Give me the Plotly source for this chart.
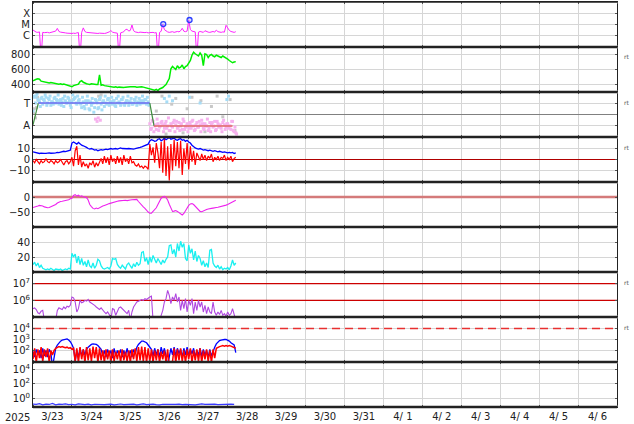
import numpy as np
import pandas as pd
import plotly.graph_objects as go
from plotly.subplots import make_subplots

T0 = pd.Timestamp("2025-03-23 00:00")
X_END = pd.Timestamp("2025-04-07 00:00")

# ---------------- data (hourly from 2025-03-23 00UT) ----------------
xray_flux = [
    3.2e-6, 2.4e-6, 2.1e-6, 2.0e-6, 2.2e-6, 1e-8, 2.0e-6, 1.9e-6, 2.1e-6, 2.0e-6,
    1.8e-6, 1.9e-6, 2.0e-6, 2.2e-6, 2.6e-6, 4.5e-6, 2.4e-6, 2.1e-6, 1.9e-6, 2.0e-6,
    1.8e-6, 1.7e-6, 1.6e-6, 1.5e-6, 1.6e-6, 1.7e-6, 1.6e-6, 1.8e-6, 1.9e-6, 1e-8,
    2.0e-6, 5.0e-6, 2.4e-6, 2.0e-6, 1.9e-6, 1.8e-6, 1.7e-6, 1.6e-6, 1.7e-6, 1.5e-6,
    1.6e-6, 1.7e-6, 1.6e-6, 1.5e-6, 1.6e-6, 1.7e-6, 1.8e-6, 2.2e-6, 2.9e-6, 2.1e-6,
    1.9e-6, 1.8e-6, 1.7e-6, 1e-8, 1.8e-6, 2.0e-6, 2.3e-6, 3.5e-6, 3.8e-6, 2.6e-6,
    3.0e-6, 9.0e-6, 2.8e-6, 2.2e-6, 2.0e-6, 1.9e-6, 2.1e-6, 2.0e-6, 1.8e-6, 1.9e-6,
    2.0e-6, 1.8e-6, 1.9e-6, 2.1e-6, 2.0e-6, 1.8e-6, 1.9e-6, 1e-8, 2.0e-6, 2.5e-6,
    1.1e-5, 3.5e-6, 2.6e-6, 2.2e-6, 2.0e-6, 2.1e-6, 2.3e-6, 2.0e-6, 2.2e-6, 2.4e-6,
    2.2e-6, 2.8e-6, 4.6e-6, 2.5e-6, 2.3e-6, 2.6e-6, 2.5e-5, 3.5e-6, 2.6e-6, 2.3e-6,
    2.2e-6, 1e-8, 2.1e-6, 2.4e-6, 2.2e-6, 2.0e-6, 2.8e-6, 2.3e-6, 2.1e-6, 2.0e-6,
    2.2e-6, 2.4e-6, 2.1e-6, 3.2e-6, 2.3e-6, 2.1e-6, 2.0e-6, 2.2e-6, 2.1e-6, 8.5e-6,
    4.5e-6, 3.0e-6, 2.4e-6, 2.2e-6, 2.0e-6, 2.3e-6,
]
flare_hours = [80.3, 96.5]
flare_flux = [1.1e-5, 2.5e-5]
xray_tickvals = [1e-6, 1e-5, 1e-4]
xray_ticktext = ["C", "M", "X"]

wind_speed = [
    450, 465, 470, 475, 470, 445, 440, 430, 425, 430,
    420, 425, 420, 415, 420, 410, 405, 410, 400, 405,
    400, 390, 385, 375, 370, 385, 395, 400, 405, 440,
    450, 430, 415, 410, 405, 400, 410, 405, 395, 400,
    400, 530, 390, 395, 385, 380, 385, 380, 375, 370,
    365, 370, 360, 365, 360, 365, 360, 365, 370, 365,
    370, 370, 375, 370, 365, 370, 375, 370, 365, 360,
    355, 350, 345, 340, 330, 325, 335, 320, 340, 345,
    360, 380, 400, 440, 480, 610, 640, 620, 600, 650,
    620, 630, 660, 610, 640, 650, 680, 720, 790, 830,
    810, 800, 780, 820, 790, 650, 810, 800, 760, 790,
    800, 780, 770, 790, 780, 770, 760, 780, 770, 750,
    740, 720, 700, 690, 700, 705,
]

sector_a = [
    0.3, 1.5, 1.6, 1.3, 1.1, 1.4, 0.9, 1.2, 1.5, 1.0,
    1.3, 0.8, 1.1, 1.4, 1.0, 1.2, 0.9, 1.3, 1.1, 0.7,
    1.2, 1.0, 1.4, 0.8, 1.1, 1.3, 1.5, 0.9, 1.2, 1.0,
    0.6, 1.1, 0.5, 0.9, 1.2, 0.4, 0.8, 1.0, 0.6, 1.2,
    0.5, 1.3, 0.9, 1.1, 0.7, 1.0, 1.3, 0.8, 1.1, 0.9,
    1.2, 0.7, 1.0, 1.1, 0.8, 1.3, 0.9, 1.0, 1.2, 0.8,
    1.1, 0.9, 1.0, 1.2, 0.8, 1.1, 0.9, 1.0, 1.2, 1.3,
    0.9, 1.1, -0.8, -1.2, -0.6, -1.0, -1.3, -0.8, -1.1, -0.7,
    -0.9, -1.2, -0.6, -1.0, -1.4, -0.8, -1.1, -0.5, -0.9, -1.2,
    -0.7, -1.0, -1.3, -0.6, -1.1, -0.8, -1.2, -0.9, -0.6, -1.0,
    -1.3, -0.7, -1.1, -0.9, -0.5, -1.2, -0.8, -1.0, -1.4, -0.7,
    -0.9, -1.1, -0.6, -1.3, -0.8, -1.0, -1.2, -0.7, -0.9, -1.1,
    -0.8, -1.0, -1.3, -0.6, -1.5, -1.6,
]
sector_b = [
    1.6, 1.0, 1.8, 1.2, 0.7, 1.5, 1.3, 1.7, 0.8, 1.4,
    1.6, 1.1, 0.9, 1.5, 1.3, 1.7, 1.2, 0.8, 1.4, 1.6,
    1.0, 1.5, 1.2, 0.6, 1.7, 1.4, 1.0, 1.6, 1.3, 0.9,
    1.5, 0.7, 1.2, 1.6, 0.5, 1.1, 1.4, 0.2, 1.3, 1.0,
    0.6, 1.5, 0.4, 1.2, 1.6, 0.9, 1.4, 1.1, 1.5, 1.2,
    0.8, 1.4, 1.6, 1.0, 1.3, 1.5, 0.8, 1.2, 1.6, 1.1,
    1.4, 0.9, 1.3, 1.5, 1.0, 1.4, 1.2, 1.6, 1.0, 1.3,
    1.5, 0.8,
    -1.3, -0.5, -1.5, -0.9, -0.4, -1.4, -1.0, -0.6,
    -1.5, -0.8, -1.2, -0.3, -1.4, -1.0, -0.7, -1.5, -0.6, -1.1,
    -1.4, -0.8, -0.4, -1.3, -1.0, -1.5, -0.7, -1.2, -0.5, -1.4,
    -0.9, -1.1, -0.6, -1.5, -0.8, -1.3, -1.0, -0.4, -1.2, -1.5,
    -0.7, -1.0, -1.4, -0.6, -1.1, -0.9, -1.5, -0.5, -1.3, -0.8,
    -1.2, -1.0, -0.6, -1.4, -1.1, -1.7,
]
sector_extra_hours = [81, 82.5, 84, 86, 96.5, 103, 119.5, 120.5, 38.5, 39.5, 40.2, 41.5]
sector_extra_vals = [1.4, 1.1, 1.6, 1.2, 1.5, 1.0, 1.3, 1.6, -0.4, -0.6, -0.3, -0.5]
sector_gray_hours = [0.3, 0.8, 1.5, 2.2, 2.8, 40.5, 41.2, 42.0, 76, 79.5, 82, 85.5,
                     88, 92.5, 95, 98, 103.5, 106, 110, 113.5, 117, 121.5, 124.5]
sector_gray_vals = [0.1, 0.5, -0.3, 0.6, 1.5, 1.6, 1.3, 1.7, 0.3, 1.6, -1.7, 0.9,
                    1.4, -1.6, 0.5, 1.5, 1.2, -1.5, 0.7, 1.6, -0.2, 1.3, -1.4]
sector_line_hours = [0, 3.3, 72, 74.6, 123]
sector_line_vals = [-0.9, 1, 1, -1, -1]

imf_bt = [
    7, 6.5, 6, 5.5, 5.5, 5.8, 6, 5.6, 5.5, 5.8,
    6, 5.7, 5.5, 5.8, 6, 6.5, 6.2, 6.8, 7, 7.5,
    7.2, 7.6, 8, 8.5, 15, 16, 15, 14, 15.5, 14,
    13, 12.5, 12, 11, 10, 9.5, 10, 9, 8.5, 9,
    8, 8.5, 9, 8.5, 9, 9.5, 9, 9.5, 10, 9.5,
    9.8, 10, 9.5, 10, 10.5, 10, 9.8, 10.2, 9.8, 10,
    9.6, 9.8, 9.5, 9.8, 10, 10.5, 11, 11.5, 12, 13,
    13.5, 14, 17, 18, 17.5, 16.5, 17, 18.5, 19, 17,
    18, 19.5, 18, 19, 20, 18.5, 19, 19.5, 18, 17.5,
    18.5, 19, 17.5, 18, 16.5, 17.5, 16, 15, 13, 11.5,
    10.5, 10, 9.5, 10, 9, 8.5, 9, 8.5, 8, 8.5,
    8, 7.5, 8, 7.5, 7, 7.5, 7, 6.5, 7, 6.5,
    6, 6.5, 6, 6.5, 5.5, 6,
]
imf_bz = [
    -1, -3, 0, -2, -4, -1, -3, -2, 1, -2,
    -3, -1, -2, -4, -1, -3, -2, 0, -3, -5,
    -2, -1, -4, -2, 2, -6, 8, 12, -5, 4,
    -7, -2, -6, -4, -8, -3, -5, -1, -7, -3,
    -6, -2, 1, -4, 3, -3, 2, -5, 4, -2,
    1, -4, 3, -3, 2, -5, 4, -2, 1, -4,
    3, -3, -2, -5, -6, -4, -7, -6, -8, -6,
    -7, -9, 14, 4, 11, -3, 15, 6, -8, 16,
    -12, 19, -15, 12, -19, 14, -10, 18, -6, 16,
    -8, 17, -14, 10, -4, 15, -9, 12, -2, 8,
    -5, 6, 3, -1, 5, 0, 4, -1, 3, 1,
    5, -2, 2, 0, 3, -1, 2, 1, 4, -1,
    2, 0, 3, -2, 1, 2,
]

dst = [
    -35, -34, -32, -30, -28, -28, -30, -33, -35, -36,
    -35, -33, -31, -28, -25, -20, -17, -15, -14, -13,
    -12, -11, -9, -6, -4, 5, 8, 3, 6, 2,
    4, 1, 0, -2, -10, -25, -32, -38, -40, -37,
    -39, -35, -33, -30, -28, -27, -24, -22, -20, -18,
    -17, -15, -14, -13, -12, -13, -11, -11, -12, -10,
    -10, -9, -8, -7, -8, -15, -22, -28, -33, -38,
    -45, -50, -54, -54, -48, -42, -36, -25, -12, -4,
    0, 2, -2, -10, -24, -38, -48, -47, -45, -48,
    -52, -58, -60, -55, -45, -36, -28, -23, -22, -25,
    -30, -35, -42, -48, -49, -46, -44, -42, -40, -40,
    -38, -37, -37, -35, -34, -33, -31, -30, -29, -27,
    -25, -22, -18, -15, -13, -11,
]

geomag_activity = [
    10, 13, 8, 12, 6, 9, 5, 4, 3, 4,
    3, 5, 3, 2, 4, 3, 3, 4, 2, 3,
    4, 3, 5, 4, 25, 20, 24, 12, 21, 10,
    18, 9, 14, 7, 16, 8, 6, 12, 5, 9,
    17, 15, 8, 5, 4, 5, 6, 4, 8, 18,
    17, 18, 10, 7, 5, 9, 6, 4, 10, 12,
    8, 5, 11, 7, 13, 9, 11, 26, 27, 14,
    19, 10, 20, 13, 22, 16, 12, 18, 14, 10,
    16, 12, 17, 20, 35, 36, 24, 30, 20, 38,
    28, 41, 33, 38, 18, 15, 36, 25, 31, 16,
    28, 14, 22, 18, 9, 15, 7, 12, 6, 29,
    30, 12, 8, 6, 9, 4, 7, 3, 5, 4,
    6, 3, 8, 16, 9, 12,
]

electron_log10 = [
    5.5, 5.55, 5.45, 5.25, 5.2, 5.35, 5.4, 4.8, 4.8, 4.8,
    4.8, 4.8, 4.8, 4.8, 4.8, 5.4, 5.55, 5.5, 5.45, 5.6,
    5.5, 5.65, 5.6, 5.7, 6.2, 6.15, 5.9, 5.3, 5.5, 6.0,
    5.85, 5.9, 6.0, 5.95, 6.05, 5.9, 5.85, 5.75, 5.7, 5.6,
    5.5, 5.45, 5.55, 5.4, 5.3, 5.2, 5.3, 5.15, 4.8, 5.5,
    5.45, 5.1, 5.3, 5.55, 5.6, 5.5, 5.45, 5.3, 5.2, 5.4,
    4.8, 5.3, 5.6, 5.75, 5.9, 5.95, 6.0, 6.05, 6.0, 6.1,
    6.05, 6.15, 6.2, 6.25, 4.8, 4.8, 4.8, 4.8, 4.8, 5.1,
    5.4, 5.9, 6.1, 6.6, 6.3, 5.8, 6.2, 6.0, 6.4, 5.9,
    6.2, 5.4, 6.0, 5.5, 6.1, 5.3, 6.0, 5.7, 6.1, 5.2,
    5.9, 5.4, 6.0, 5.6, 5.9, 5.3, 5.7, 5.2, 5.6, 5.3,
    5.2, 5.9, 5.3, 5.1, 5.3, 5.15, 5.4, 5.1, 5.2, 5.05,
    5.3, 5.1, 5.2, 5.5, 5.1, 4.8,
]
electron_levels = [1e6, 1e7]

proton_blue_log10 = [
    1.9, 1.4, 2.1, 1.6, 2.0, 1.3, 2.2, 1.5, 2.0, 1.4,
    2.1, 1.8, 0.5, 1.2, 2.2, 2.5, 2.7, 2.85, 2.95, 3.0,
    3.05, 3.05, 2.95, 2.8, 2.55, 2.2, 1.0, 2.0, 1.4, 2.2,
    1.5, 2.1, 1.6, 2.1, 2.3, 2.45, 2.55, 2.6, 2.6, 2.55,
    2.45, 2.3, 2.1, 1.5, 2.0, 1.4, 2.1, 1.6, 2.0, 1.3,
    2.2, 1.5, 2.0, 1.6, 2.1, 1.4, 2.0, 1.5, 2.2, 1.6,
    2.0, 1.4, 2.1, 1.7, 2.3, 2.55, 2.75, 2.85, 2.85, 2.8,
    2.7, 2.5, 2.3, 2.1, 1.5, 2.2, 1.6, 2.1, 1.4, 2.3,
    1.7, 2.2, 1.5, 0.6, 1.4, 2.2, 1.6, 2.3, 1.5, 2.2,
    1.7, 2.1, 1.4, 2.2, 1.6, 2.3, 1.5, 2.1, 1.7, 2.2,
    1.4, 2.0, 1.6, 2.2, 1.5, 2.1, 1.6, 2.0, 1.4, 2.1,
    1.5, 2.0, 2.3, 2.6, 2.8, 2.9, 2.95, 3.0, 3.0, 3.0,
    2.95, 2.85, 2.7, 2.6, 2.5, 1.8,
]
proton_red_log10 = [
    1.2, 2.2, 0.9, 2.1, 1.3, 2.3, 1.0, 2.1, 1.4, 2.2,
    0.9, 2.0, 1.6, 2.0, 2.2, 2.3, 2.35, 2.3, 2.35, 2.3,
    2.25, 2.3, 2.2, 2.25, 2.1, 2.2, 1.0, 2.2, 0.9, 2.3,
    1.2, 2.1, 0.9, 2.3, 1.1, 2.2, 1.0, 2.35, 1.3, 2.3,
    0.9, 2.2, 1.1, 2.0, 0.9, 2.1, 1.2, 2.0, 0.9, 2.1,
    1.0, 1.9, 1.2, 2.0, 0.9, 2.1, 1.1, 1.9, 1.0, 2.0,
    0.9, 2.1, 1.2, 2.2, 1.0, 2.3, 1.1, 2.35, 1.0, 2.3,
    0.9, 2.2, 1.0, 2.1, 0.9, 2.0, 1.1, 2.1, 0.9, 1.9,
    1.2, 2.0, 0.9, 2.1, 0.5, 0.5, 1.0, 2.2, 0.9, 2.1,
    1.1, 2.2, 1.0, 2.0, 0.9, 2.1, 1.2, 2.2, 0.9, 2.0,
    1.1, 2.1, 1.0, 2.2, 0.9, 2.0, 1.2, 2.1, 1.0, 2.0,
    0.9, 2.1, 1.3, 2.2, 2.3, 2.35, 2.4, 2.45, 2.4, 2.45,
    2.4, 2.45, 2.4, 2.35, 2.3, 2.2,
]
proton_alert_level = [1e4]

# 2-hourly values
bottom_log10 = [
    -0.8, -0.85, -0.75, -0.9, -0.8, -0.85, -0.7, -0.9, -0.8, -0.85,
    -0.78, -0.88, -0.82, -0.9, -0.76, -0.84, -0.86, -0.8, -0.9, -0.82,
    -0.85, -0.78, -0.88, -0.83, -0.8, -0.9, -0.84, -0.79, -0.87, -0.82,
    -0.86, -0.8, -0.9, -0.84, -0.78, -0.88, -0.83, -0.8, -0.86, -0.9,
    -0.82, -0.85, -0.79, -0.87, -0.84, -0.8, -0.88, -0.83, -0.86, -0.8,
    -0.9, -0.84, -0.78, -0.85, -0.82, -0.88, -0.8, -0.86, -0.83, -0.78,
    -0.85, -0.8, -0.84,
]

# ---------------- helpers ----------------
def times(hours):
    return [T0 + pd.Timedelta(hours=float(h)) for h in hours]

def hourly(vals, step=1.0):
    return times(np.arange(len(vals)) * step)

full_x = [T0, X_END]

fig = make_subplots(rows=9, cols=1, shared_xaxes=True, vertical_spacing=0)

# 1 X-ray
fig.add_trace(go.Scatter(x=hourly(xray_flux), y=xray_flux, mode="lines",
                         line=dict(color="#ff22ff", width=1)), row=1, col=1)
fig.add_trace(go.Scatter(x=times(flare_hours), y=flare_flux, mode="markers",
                         marker=dict(symbol="circle", size=5, color="rgba(150,160,255,0.35)",
                                     line=dict(color="#2a3cff", width=1.3)),
                         cliponaxis=False), row=1, col=1)

# 2 solar wind
fig.add_trace(go.Scatter(x=hourly(wind_speed), y=wind_speed, mode="lines",
                         line=dict(color="#00ee00", width=1.5)), row=2, col=1)

# 3 sector
sec_pts_t = hourly(sector_a) + times(np.arange(len(sector_b)) + 0.5) + times(sector_extra_hours)
sec_pts_v = list(sector_a) + list(sector_b) + list(sector_extra_vals)
pos_t = [t for t, v in zip(sec_pts_t, sec_pts_v) if v >= 0]
pos_v = [v for v in sec_pts_v if v >= 0]
neg_t = [t for t, v in zip(sec_pts_t, sec_pts_v) if v < 0]
neg_v = [v for v in sec_pts_v if v < 0]
fig.add_trace(go.Scatter(x=times(sector_gray_hours), y=sector_gray_vals, mode="markers",
                         marker=dict(symbol="square", size=3, color="#c8c8c8")), row=3, col=1)
fig.add_trace(go.Scatter(x=pos_t, y=pos_v, mode="markers",
                         marker=dict(symbol="square", size=3, color="#a6dcf6")), row=3, col=1)
fig.add_trace(go.Scatter(x=neg_t, y=neg_v, mode="markers",
                         marker=dict(symbol="square", size=3, color="#f6b2ee")), row=3, col=1)
slt = times(sector_line_hours)
fig.add_trace(go.Scatter(x=full_x, y=[0, 0], mode="lines",
                         line=dict(color="#808080", width=1)), row=3, col=1)
fig.add_trace(go.Scatter(x=slt[0:2], y=sector_line_vals[0:2], mode="lines",
                         line=dict(color="#3f8f3f", width=1.2)), row=3, col=1)
fig.add_trace(go.Scatter(x=slt[1:3], y=sector_line_vals[1:3], mode="lines",
                         line=dict(color="#6a6af0", width=1.5)), row=3, col=1)
fig.add_trace(go.Scatter(x=slt[2:4], y=sector_line_vals[2:4], mode="lines",
                         line=dict(color="#3f8f3f", width=1.2)), row=3, col=1)
fig.add_trace(go.Scatter(x=slt[3:5], y=sector_line_vals[3:5], mode="lines",
                         line=dict(color="#e06464", width=1.5)), row=3, col=1)

# 4 IMF
fig.add_trace(go.Scatter(x=full_x, y=[0, 0], mode="lines",
                         line=dict(color="#b00000", width=1.2)), row=4, col=1)
fig.add_trace(go.Scatter(x=hourly(imf_bz), y=imf_bz, mode="lines",
                         line=dict(color="#ff0000", width=1.2)), row=4, col=1)
fig.add_trace(go.Scatter(x=hourly(imf_bt), y=imf_bt, mode="lines",
                         line=dict(color="#0000ff", width=1.3)), row=4, col=1)

# 5 Dst
fig.add_trace(go.Scatter(x=full_x, y=[0, 0], mode="lines",
                         line=dict(color="#d47a7a", width=2.5)), row=5, col=1)
fig.add_trace(go.Scatter(x=hourly(dst), y=dst, mode="lines",
                         line=dict(color="#ee22ee", width=1.1)), row=5, col=1)

# 6 cyan index
fig.add_trace(go.Scatter(x=hourly(geomag_activity), y=geomag_activity, mode="lines",
                         line=dict(color="#19f0f0", width=1.3)), row=6, col=1)

# 7 electrons
for lv in electron_levels:
    fig.add_trace(go.Scatter(x=full_x, y=[lv, lv], mode="lines",
                             line=dict(color="#cc0000", width=1.2)), row=7, col=1)
fig.add_trace(go.Scatter(x=hourly(electron_log10), y=[10 ** v for v in electron_log10],
                         mode="lines", line=dict(color="#b048e0", width=1.1)), row=7, col=1)

# 8 protons
fig.add_trace(go.Scatter(x=full_x, y=proton_alert_level * 2, mode="lines",
                         line=dict(color="#e83030", width=1.5, dash="8px,5px")), row=8, col=1)
fig.add_trace(go.Scatter(x=hourly(proton_blue_log10), y=[10 ** v for v in proton_blue_log10],
                         mode="lines", line=dict(color="#0000ff", width=1.3)), row=8, col=1)
fig.add_trace(go.Scatter(x=hourly(proton_red_log10), y=[10 ** v for v in proton_red_log10],
                         mode="lines", line=dict(color="#ff0000", width=1.5)), row=8, col=1)

# 9 bottom
fig.add_trace(go.Scatter(x=hourly(bottom_log10, 2.0), y=[10 ** v for v in bottom_log10],
                         mode="lines", line=dict(color="#3a3aff", width=1.2)), row=9, col=1)

# ---------------- axes ----------------
font = dict(family="DejaVu Sans", size=10, color="#222")
yspec = {
    1: dict(type="log", range=[-7, -3], tickvals=xray_tickvals, ticktext=xray_ticktext),
    2: dict(range=[300, 900], tickvals=[400, 600, 800]),
    3: dict(range=[-1.96, 1.96], tickvals=[-1, 1], ticktext=["A", "T"]),
    4: dict(range=[-20.5, 20.5], tickvals=[-10, 0, 10], ticktext=["\u221210", "0", "10"]),
    5: dict(range=[-100, 50], tickvals=[-50, 0], ticktext=["\u221250", "0"]),
    6: dict(range=[0, 60], tickvals=[20, 40]),
    7: dict(type="log", range=[5, 7.7], tickvals=[1e6, 1e7],
            ticktext=["10<sup>6</sup>", "10<sup>7</sup>"]),
    8: dict(type="log", range=[0.95, 5.05], tickvals=[1e2, 1e3, 1e4],
            ticktext=["10<sup>2</sup>", "10<sup>3</sup>", "10<sup>4</sup>"]),
    9: dict(type="log", range=[-1.2, 5.0], tickvals=[1, 1e2, 1e4],
            ticktext=["10<sup>0</sup>", "10<sup>2</sup>", "10<sup>4</sup>"]),
}
for r, spec in yspec.items():
    fig.update_yaxes(row=r, col=1, showgrid=True, gridcolor="#d6d6d6", gridwidth=1,
                     zeroline=False, showline=True, linecolor="#222", linewidth=1,
                     mirror="ticks", ticks="inside", ticklen=2, tickcolor="#555",
                     tickfont=font, **spec)
    fig.update_xaxes(row=r, col=1, type="date", range=[T0, X_END], tick0=T0,
                     dtick=86400000, showgrid=True, gridcolor="#d6d6d6",
                     zeroline=False, showline=True, linecolor="#222", linewidth=1,
                     mirror="ticks", ticks="inside", ticklen=2, tickcolor="#555",
                     tickformat="%-m/%e", ticklabelmode="period", tickfont=font,
                     showticklabels=(r == 9))

shapes = []
for k in range(0, 9):
    shapes.append(dict(type="line", xref="paper", yref="paper", x0=0, x1=1,
                       y0=k / 9, y1=k / 9, line=dict(color="#222", width=2.5),
                       layer="above"))
shapes.append(dict(type="line", xref="paper", yref="paper", x0=0, x1=1, y0=1, y1=1,
                   line=dict(color="#222", width=1.5), layer="above"))

annotations = [dict(text="2025", xref="paper", yref="paper", x=0, y=0, xanchor="right",
                    yanchor="top", xshift=-1, yshift=-3, showarrow=False, font=font)]
for k in [1, 2, 3, 6, 7]:
    annotations.append(dict(text="rt", xref="paper", yref="paper", x=1, xshift=5,
                            y=1 - (45 * k + 10) / 405, xanchor="left", yanchor="middle",
                            showarrow=False, font=dict(family="DejaVu Sans", size=6, color="#555")))

fig.update_layout(width=634, height=424, margin=dict(l=33, r=17, t=2, b=17),
                  plot_bgcolor="white", paper_bgcolor="white", showlegend=False,
                  shapes=shapes, annotations=annotations)

fig.write_html("out.html", config={"displayModeBar": False},
               post_script="document.body.style.margin='0';document.body.style.padding='0';")
